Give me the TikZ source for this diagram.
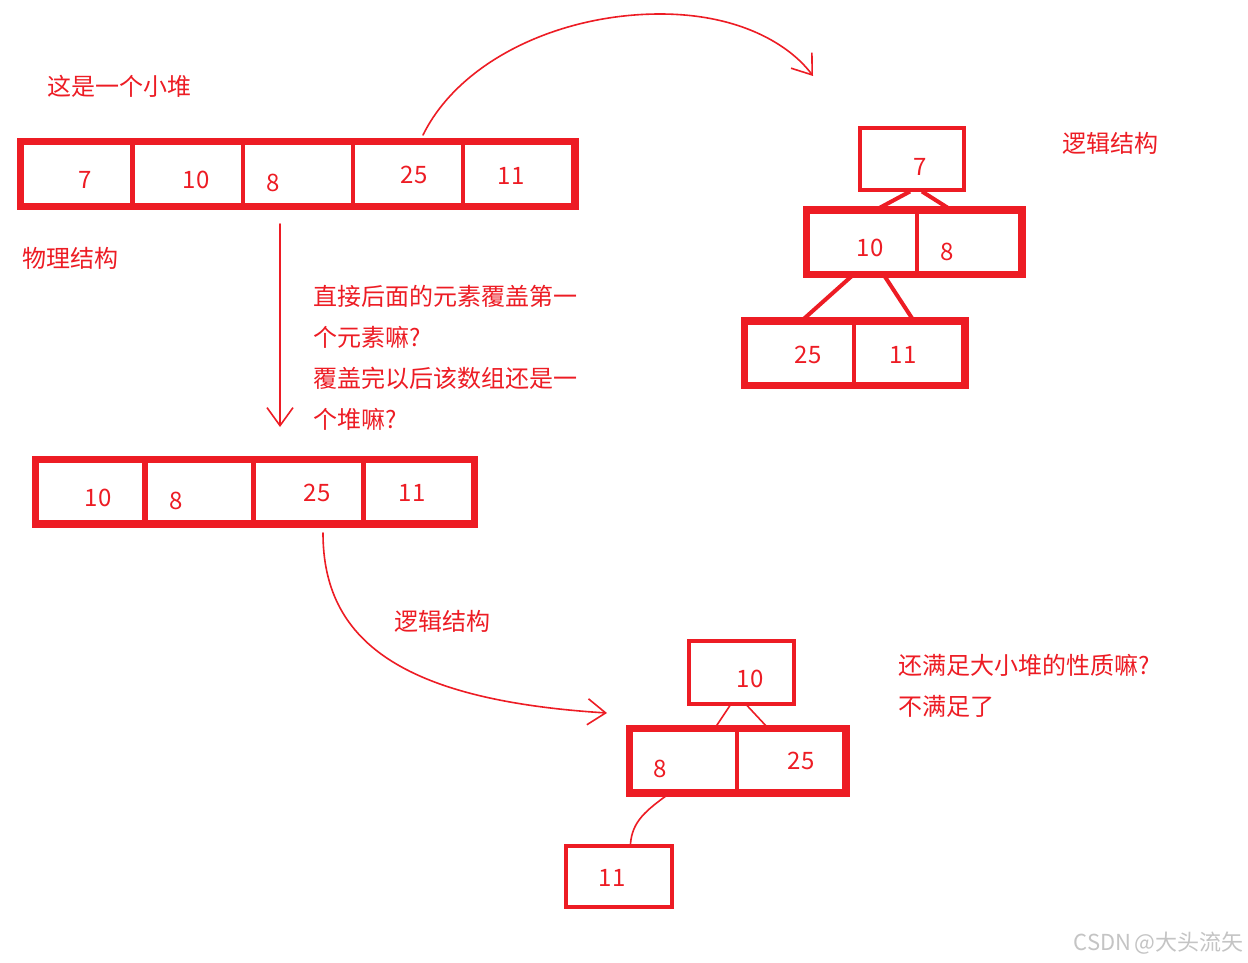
\documentclass[tikz,border=0pt]{standalone}
\usepackage{fontspec}
\setmainfont{Noto Sans CJK SC}
\usetikzlibrary{arrows.meta,fit}
\definecolor{paintred}{RGB}{237,28,36}
\definecolor{markgray}{RGB}{196,196,196}
\def\cellH{61pt}
\tikzset{
	cellA/.style={
		draw=paintred, line width=4pt, inner sep=0pt, minimum height=\cellH,
	},
	frameA/.style={draw=paintred, line width=5pt, inner sep=1pt},
	numA/.style={text=paintred, inner sep=0pt, font={\fontsize{24}{24}\selectfont}},
	noteA/.style={
		text=paintred, inner sep=0pt, anchor=west, align=left,
		font={\fontsize{24}{41}\selectfont}
	},
	penA/.style={draw=paintred, line width=1.6pt, line cap=round},
	>={Straight Barb[length=18pt,width=26pt]},
}

\begin{document}
\begin{tikzpicture}[x=1pt, y=-1pt]
\useasboundingbox (0,0) rectangle (1248,963);
\fill[white] (0,0) rectangle (1248,963);
% physical array
\foreach \n/\x in {1/77,2/187.5,3/297.5,4/407.5,5/518}
	\node[cellA, minimum width=110pt] (p\n) at (\x,174) {};
\node[frameA, fit=(p1)(p5)] (phys) {};
\node[numA] (p1v) at (85,180) {7};
\node[numA] (p2v) at (196,180) {10};
\node[numA] (p3v) at (273,183) {8};
\node[numA] (p4v) at (414,175) {25};
\node[numA] (p5v) at (511,176) {11};
% array after the cover
\foreach \n/\x in {1/91.5,2/198,3/308,4/418}
	\node[cellA, minimum width=109pt] (a\n) at (\x,491.5) {};
\node[frameA, fit=(a1)(a4)] (arr) {};
\node[numA] (a1v) at (98,498) {10};
\node[numA] (a2v) at (176,501) {8};
\node[numA] (a3v) at (317,493) {25};
\node[numA] (a4v) at (412,493) {11};
% first tree
\node[cellA, minimum width=104pt] (t7) at (912,159) {};
\node[cellA, minimum width=109pt] (t10) at (862.5,242) {};
\node[cellA, minimum width=103pt] (t8) at (968.5,242) {};
\node[frameA, fit=(t10)(t8)] (trow1) {};
\node[cellA, minimum width=108pt] (t25) at (800,353) {};
\node[cellA, minimum width=109pt] (t11) at (908.5,353) {};
\node[frameA, fit=(t25)(t11)] (trow2) {};
\node[numA] (t7v) at (920,167) {7};
\node[numA] (t10v) at (870,248) {10};
\node[numA] (t8v) at (947,252) {8};
\node[numA] (t25v) at (808,355) {25};
\node[numA] (t11v) at (903,355) {11};
\draw[paintred, line width=4pt] ([xshift=-2pt]t7.south) -- ([xshift=14pt]t10.north);
\draw[paintred, line width=4pt] ([xshift=10pt]t7.south) -- ([xshift=-18pt]t8.north);
\draw[paintred, line width=4pt] ([xshift=-9pt]t10.south) -- ([xshift=2pt]t25.north);
\draw[paintred, line width=4pt] ([xshift=21pt]t10.south) -- ([xshift=5pt]t11.north);
% second tree
\node[cellA, minimum width=105pt, minimum height=63pt] (b10) at (741.5,672) {};
\node[cellA, minimum width=106pt] (b8) at (684,760.5) {};
\node[cellA, minimum width=107pt] (b25) at (790.5,760.5) {};
\node[frameA, fit=(b8)(b25)] (brow) {};
\node[cellA, minimum width=106pt] (b11) at (618.5,876) {};
\node[numA] (b10v) at (750,679) {10};
\node[numA] (b8v) at (660,769) {8};
\node[numA] (b25v) at (801,761) {25};
\node[numA] (b11v) at (612,878) {11};
\draw[penA] ([xshift=-11.5pt]b10.south) -- ([xshift=31pt]b8.north);
\draw[penA] ([xshift=5.5pt]b10.south) -- ([xshift=-22.5pt]b25.north);
\draw[penA] ([xshift=-14pt]b8.south) .. controls +(-25,18) and +(2,-22) .. ([xshift=12pt]b11.north);
% hand drawn arrows
\coordinate (upStart) at (423,135);
\coordinate (upTop) at (660,14);
\coordinate (upEnd) at (813,76);
\draw[penA, ->] (upStart) .. controls (460,60) and (560,14) .. (upTop)
	.. controls (740,14) and (790,45) .. (upEnd);
\coordinate (downStart) at (280,224);
\coordinate (downEnd) at (280,427);
\draw[penA, ->] (downStart) -- (downEnd);
\coordinate (lowStart) at (323,533);
\coordinate (lowEnd) at (607,713);
\draw[penA, ->] (lowStart) .. controls (323,640) and (400,700) .. (lowEnd);
% notes
\node[noteA] (heapNote) at (47,86) {这是一个小堆};
\node[noteA] (physNote) at (22,258) {物理结构};
\node[noteA] (askNote) at (313,358) {直接后面的元素覆盖第一\\个元素嘛?\\覆盖完以后该数组还是一\\个堆嘛?};
\node[noteA] (logicNote) at (1062,143) {逻辑结构};
\node[noteA] (logicNoteB) at (394,621) {逻辑结构};
\node[noteA] (checkNote) at (898,685.5) {还满足大小堆的性质嘛?\\不满足了};
\node[anchor=east, inner sep=0pt, text=markgray, font={\fontsize{22}{22}\selectfont}] (mark) at (1244,943) {CSDN\,@大头流矢};
\end{tikzpicture}
\end{document}
